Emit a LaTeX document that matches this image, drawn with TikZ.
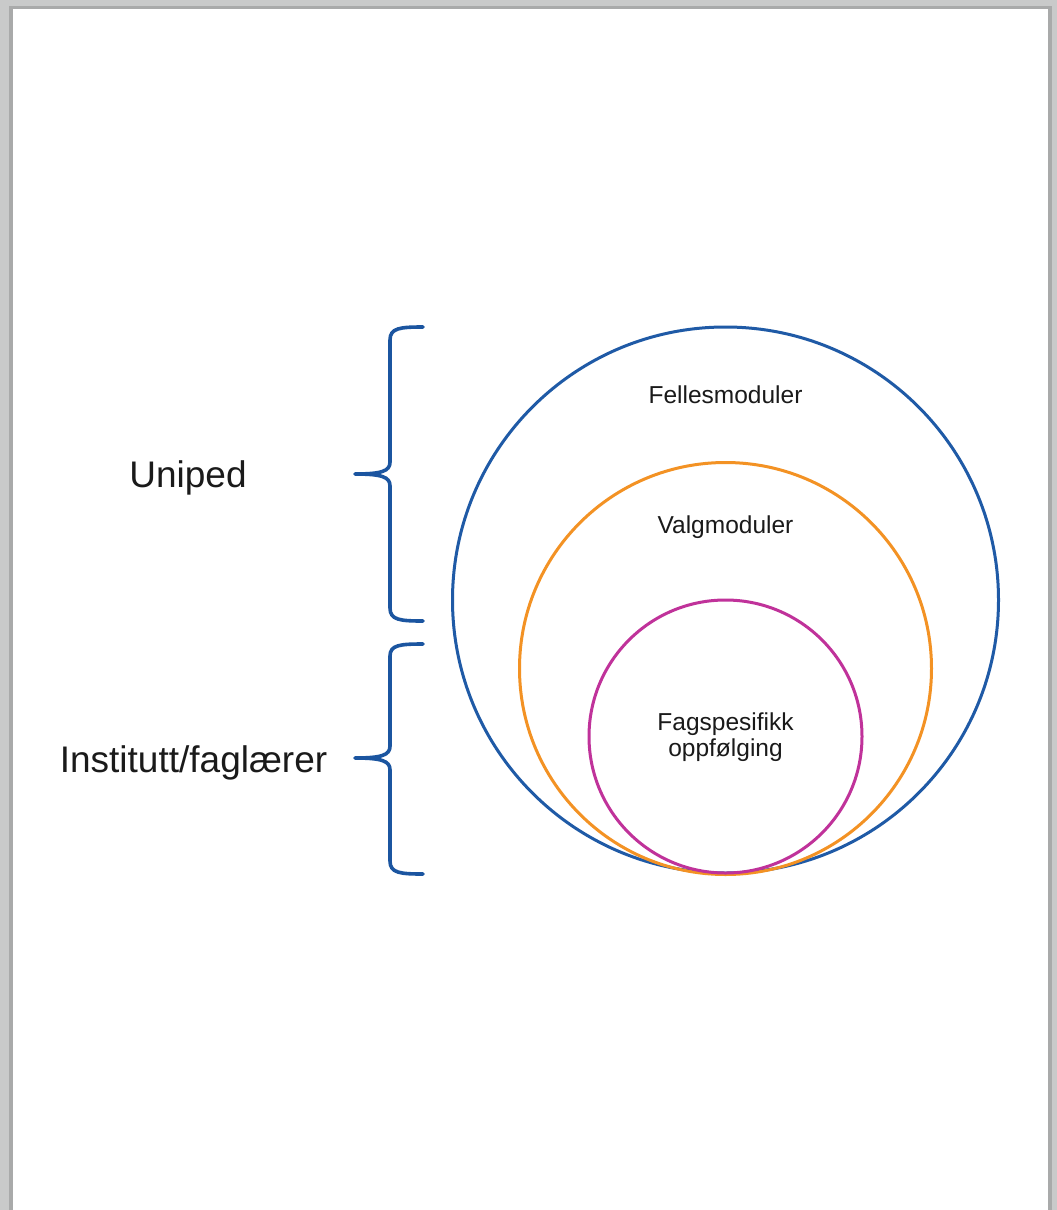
\documentclass[tikz,border=0pt]{standalone}
\usepackage{fontspec}
\setmainfont{Liberation Sans}
\definecolor{pagegray}{HTML}{C9CACA}
\definecolor{shadowgray}{HTML}{A9AAAA}
\definecolor{bracecol}{HTML}{1B55A0}
\definecolor{outercol}{HTML}{1F5AA6}
\definecolor{midcol}{HTML}{F39224}
\definecolor{innercol}{HTML}{C0329A}
\definecolor{txt}{HTML}{1A1A1A}
\begin{document}
\begin{tikzpicture}[x=1pt,y=-1pt,
  ring/.style={circle, draw, line width=3pt, inner sep=0pt},
  bigtext/.style={text=txt, font=\fontsize{37}{44}\selectfont},
  smalltext/.style={text=txt, font=\fontsize{24.5}{26}\selectfont, align=center},
  bracestyle/.style={draw=bracecol, line width=3.6pt, line cap=round, line join=round}]
\useasboundingbox (0,0) rectangle (1057,1210);
\fill[pagegray] (0,0) rectangle (1057,1210);
\fill[shadowgray] (9,6) rectangle (1052,1210);
\fill[white] (13,9) rectangle (1048,1210);
% circles
\node[ring, draw=outercol, minimum size=546pt] (outer) at (725.5,600) {};
\node[ring, draw=midcol, minimum size=412pt] (middle) at (725.5,668.5) {};
\node[ring, draw=innercol, minimum size=273pt] (inner) at (725.5,736.5) {};
% circle labels
\node[smalltext] (felles) at (725.5,395) {Fellesmoduler};
\node[smalltext] (valg) at (725.5,527.5) {Valgmoduler};
\node[smalltext] (fag) at (725.5,737) {Fagspesifikk\\oppfølging};
% braces
\path[bracestyle] (423,327) .. controls (400,327) and (390,328) .. (390,340)
  -- (390,462) .. controls (390,471) and (382,474) .. (355,474)
  .. controls (382,474) and (390,477) .. (390,486)
  -- (390,608) .. controls (390,620) and (400,621) .. (423,621);
\path[bracestyle] (423,644) .. controls (400,644) and (390,645) .. (390,656)
  -- (390,746) .. controls (390,755) and (382,758) .. (355,758)
  .. controls (382,758) and (390,761) .. (390,770)
  -- (390,861) .. controls (390,873) and (400,874) .. (423,874);
% left labels
\node[bigtext] (uniped) at (188,477.5) {Uniped};
\node[bigtext] (inst) at (193.5,763) {Institutt/faglærer};
\end{tikzpicture}
\end{document}
